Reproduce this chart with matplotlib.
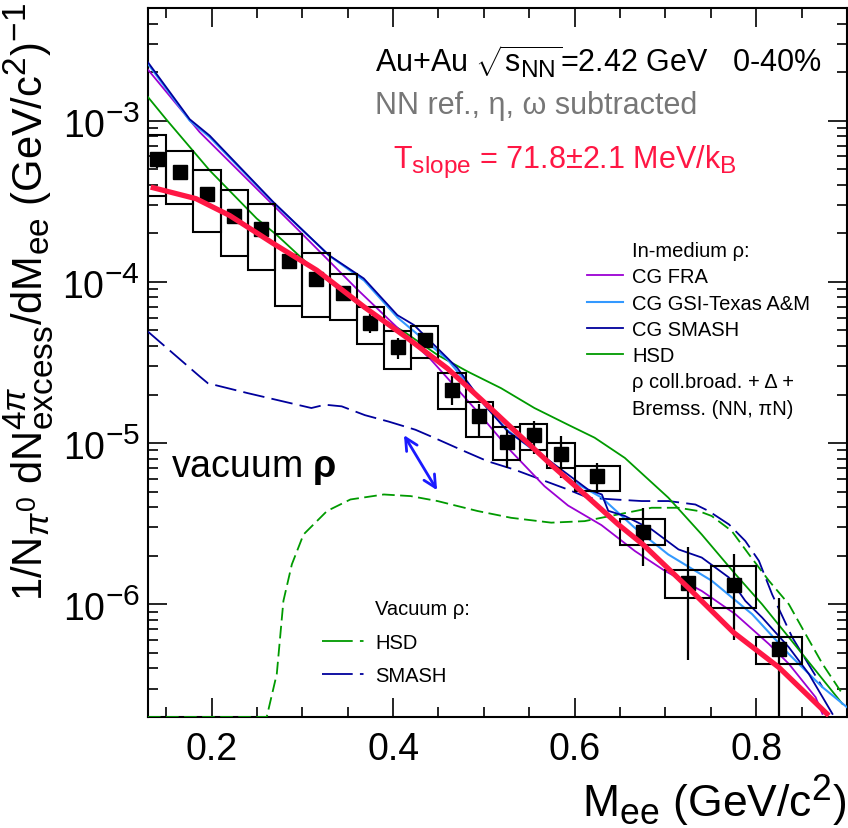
import numpy as np
import matplotlib
matplotlib.use("Agg")
import matplotlib.pyplot as plt
import matplotlib._mathtext as mathtext_impl
from matplotlib.lines import Line2D
from matplotlib.patches import Rectangle
from matplotlib.ticker import MultipleLocator, FixedLocator

plt.rcParams['font.family'] = ['Liberation Sans', 'DejaVu Sans']
plt.rcParams['mathtext.fontset'] = 'custom'
plt.rcParams['mathtext.rm'] = 'Liberation Sans'
plt.rcParams['mathtext.it'] = 'Liberation Sans:italic'
plt.rcParams['mathtext.bf'] = 'Liberation Sans:bold'
plt.rcParams['mathtext.sf'] = 'Liberation Sans'
# ROOT-style labels use bigger sub/superscripts than mathtext does
mathtext_impl.SHRINK_FACTOR = 0.8

# --- measured excess yield (HADES Au+Au 2.42 GeV, 0-40%) ---
mass = [0.14, 0.165, 0.195, 0.225, 0.255, 0.285, 0.315, 0.345, 0.375, 0.405, 0.435,
        0.465, 0.495, 0.525, 0.555, 0.585, 0.625, 0.675, 0.725, 0.775, 0.825]
bin_w = [0.02, 0.03, 0.03, 0.03, 0.03, 0.03, 0.03, 0.03, 0.03, 0.03, 0.03,
         0.03, 0.03, 0.03, 0.03, 0.03, 0.05, 0.05, 0.05, 0.05, 0.05]
yld = [5.80e-4, 4.80e-4, 3.52e-4, 2.56e-4, 2.14e-4, 1.34e-4, 1.04e-4, 8.52e-5, 5.56e-5,
       3.97e-5, 4.36e-5, 2.14e-5, 1.47e-5, 1.02e-5, 1.12e-5, 8.60e-6, 6.24e-6, 2.82e-6,
       1.35e-6, 1.32e-6, 5.25e-7]
stat_hi = [6.4e-4, 5.0e-4, 3.9e-4, 2.72e-4, 2.27e-4, 1.46e-4, 1.13e-4, 9.4e-5, 6.3e-5,
           4.5e-5, 4.85e-5, 2.6e-5, 1.75e-5, 1.21e-5, 1.38e-5, 1.11e-5, 7.5e-6, 3.93e-6,
           2.28e-6, 2.06e-6, 1.10e-6]
stat_lo = [5.1e-4, 4.6e-4, 3.13e-4, 2.40e-4, 2.01e-4, 1.22e-4, 0.95e-4, 7.7e-5, 4.85e-5,
           3.3e-5, 3.9e-5, 1.72e-5, 1.10e-5, 7.0e-6, 8.5e-6, 6.1e-6, 4.9e-6, 1.73e-6,
           4.5e-7, 6.0e-7, 1.0e-7]
sys_hi = [8.19e-4, 6.52e-4, 4.91e-4, 3.69e-4, 3.05e-4, 1.97e-4, 1.50e-4, 1.12e-4, 7.02e-5,
          4.96e-5, 5.35e-5, 2.71e-5, 1.81e-5, 1.25e-5, 1.32e-5, 1.0e-5, 7.24e-6, 3.36e-6,
          1.63e-6, 1.73e-6, 6.23e-7]
sys_lo = [3.39e-4, 3.02e-4, 2.04e-4, 1.44e-4, 1.18e-4, 7.11e-5, 6.03e-5, 5.80e-5, 4.12e-5,
          2.88e-5, 3.36e-5, 1.63e-5, 1.09e-5, 7.83e-6, 9.03e-6, 7.01e-6, 5.08e-6, 2.32e-6,
          1.09e-6, 9.55e-7, 4.27e-7]

# --- exponential fit (T_slope) ---
fit_m = [0.133, 0.183, 0.22, 0.268, 0.316, 0.368, 0.416, 0.46, 0.50, 0.53, 0.574, 0.607,
         0.648, 0.676, 0.725, 0.775, 0.825, 0.88]
fit_y = [3.87e-4, 3.28e-4, 2.58e-4, 1.73e-4, 1.18e-4, 7.0e-5, 4.47e-5, 2.9e-5, 1.8e-5,
         1.25e-5, 7.35e-6, 5.04e-6, 3.13e-6, 2.33e-6, 1.27e-6, 6.69e-7, 4.06e-7, 2.04e-7]

# --- in-medium rho models ---
fra_m = [0.13, 0.187, 0.2977, 0.3604, 0.4047, 0.4415, 0.4894, 0.530, 0.5668, 0.5927,
         0.6295, 0.6664, 0.6996, 0.740, 0.777, 0.814, 0.836, 0.8655, 0.873]
fra_y = [2.07e-3, 8.48e-4, 2.04e-4, 9.0e-5, 5.2e-5, 3.3e-5, 1.65e-5, 8.9e-6, 5.4e-6,
         4.1e-6, 3.1e-6, 2.14e-6, 1.61e-6, 1.21e-6, 8.69e-7, 5.67e-7, 4.27e-7, 2.65e-7,
         2.09e-7]

gsi_m = [0.13, 0.176, 0.198, 0.268, 0.33, 0.368, 0.405, 0.46, 0.50, 0.526, 0.563, 0.593,
         0.6295, 0.666, 0.703, 0.751, 0.7955, 0.836, 0.873, 0.90]
gsi_y = [2.25e-3, 1.0e-3, 7.9e-4, 3.1e-4, 1.45e-4, 1.02e-4, 6.0e-5, 3.3e-5, 1.75e-5,
         1.2e-5, 8.3e-6, 6.0e-6, 4.6e-6, 2.99e-6, 2.04e-6, 1.40e-6, 8.69e-7, 4.91e-7,
         3.06e-7, 2.3e-7]

smash_m = [0.13, 0.176, 0.198, 0.268, 0.3295, 0.3677, 0.4047, 0.423, 0.46, 0.471, 0.5004,
           0.5263, 0.5632, 0.5927, 0.6148, 0.63, 0.637, 0.6553, 0.685, 0.7144, 0.740,
           0.7697, 0.788, 0.8065, 0.836, 0.858, 0.884]
smash_y = [2.30e-3, 1.02e-3, 8.07e-4, 3.13e-4, 1.46e-4, 1.05e-4, 6.22e-5, 5.40e-5, 3.36e-5,
           2.91e-5, 1.73e-5, 1.18e-5, 8.48e-6, 6.38e-6, 5.15e-6, 4.8e-6, 3.8e-6, 3.53e-6,
           2.91e-6, 2.19e-6, 1.95e-6, 1.47e-6, 1.05e-6, 8.28e-7, 5.41e-7, 3.70e-7, 2.09e-7]

hsd_m = [0.13, 0.150, 0.198, 0.2498, 0.272, 0.316, 0.3677, 0.412, 0.449, 0.482, 0.519,
         0.5557, 0.5927, 0.622, 0.6553, 0.7033, 0.740, 0.777, 0.8065, 0.836, 0.8655, 0.895]
hsd_y = [1.40e-3, 1.02e-3, 4.91e-4, 2.47e-4, 1.95e-4, 1.15e-4, 6.85e-5, 4.91e-5, 3.52e-5,
         2.78e-5, 2.19e-5, 1.65e-5, 1.30e-5, 1.08e-5, 8.09e-6, 4.58e-6, 2.71e-6, 1.54e-6,
         1.00e-6, 6.24e-7, 3.88e-7, 2.41e-7]

# --- vacuum rho models ---
hsd_vac_m = [0.13, 0.2608, 0.2719, 0.2792, 0.2885, 0.3013, 0.3272, 0.353, 0.3898, 0.4194,
             0.4489, 0.4931, 0.530, 0.5742, 0.611, 0.648, 0.6848, 0.7144, 0.7365, 0.751,
             0.773, 0.792, 0.814, 0.836, 0.8544, 0.873, 0.895]
hsd_vac_y = [2.0e-7, 2.0e-7, 3.70e-7, 1.05e-6, 1.77e-6, 2.71e-6, 3.79e-6, 4.47e-6, 4.80e-6,
             4.69e-6, 4.37e-6, 3.79e-6, 3.44e-6, 3.21e-6, 3.28e-6, 3.61e-6, 3.97e-6, 3.97e-6,
             3.79e-6, 3.53e-6, 2.85e-6, 2.04e-6, 1.40e-6, 1.00e-6, 6.53e-7, 4.27e-7, 2.78e-7]

smash_vac_m = [0.13, 0.187, 0.196, 0.240, 0.310, 0.325, 0.3434, 0.369, 0.395, 0.4246,
               0.445, 0.4747, 0.504, 0.5336, 0.563, 0.5927, 0.6148, 0.644, 0.6738, 0.7033,
               0.733, 0.7476, 0.770, 0.788, 0.803, 0.8176, 0.8397, 0.873]
smash_vac_y = [4.91e-5, 2.59e-5, 2.35e-5, 2.04e-5, 1.65e-5, 1.73e-5, 1.69e-5, 1.49e-5,
               1.36e-5, 1.21e-5, 1.08e-5, 9.10e-6, 7.72e-6, 6.85e-6, 5.94e-6, 5.15e-6,
               4.58e-6, 4.47e-6, 4.37e-6, 4.37e-6, 4.16e-6, 3.79e-6, 3.13e-6, 2.47e-6,
               1.86e-6, 1.15e-6, 6.24e-7, 3.06e-7]

# arrow between in-medium and vacuum spectra
arrow_m = [0.412, 0.4485]
arrow_y = [1.12e-5, 5.1e-6]

c_red = '#ff1744'
c_fra = '#9b00d3'
c_gsi = '#3399ff'
c_smash = '#00009c'
c_hsd = '#009a00'

fig = plt.figure(figsize=(8.48, 8.29), dpi=100)
ax = fig.add_axes([0.1745, 0.1339, 0.8243, 0.8553])
ax.set_yscale('log')
ax.set_xlim(0.13, 0.9)
ax.set_ylim(2e-7, 5e-3)

# model curves
ax.plot(hsd_vac_m, hsd_vac_y, color=c_hsd, lw=1.3, ls=(0, (7, 3)), zorder=3)
ax.plot(smash_vac_m, smash_vac_y, color=c_smash, lw=1.3, ls=(0, (12, 4)), zorder=3)
ax.plot(hsd_m, hsd_y, color=c_hsd, lw=1.3, zorder=3)
ax.plot(fra_m, fra_y, color=c_fra, lw=1.3, zorder=3)
ax.plot(gsi_m, gsi_y, color=c_gsi, lw=1.5, zorder=3)
ax.plot(smash_m, smash_y, color=c_smash, lw=1.3, zorder=3)

# systematic boxes
for m, w, lo, hi in zip(mass, bin_w, sys_lo, sys_hi):
    ax.add_patch(Rectangle((m - w / 2, lo), w, hi - lo, fill=False,
                           edgecolor='black', lw=1.5, zorder=4))

# data with statistical errors
yerr = [np.array(yld) - np.array(stat_lo), np.array(stat_hi) - np.array(yld)]
ax.errorbar(mass, yld, yerr=yerr, fmt='s', color='black', ms=9.5, lw=1.6,
            capsize=0, zorder=5)

# fit
ax.plot(fit_m, fit_y, color=c_red, lw=3.8, zorder=6, solid_capstyle='butt')

ax.annotate('', xy=(arrow_m[1], arrow_y[1]), xytext=(arrow_m[0], arrow_y[0]),
            arrowprops=dict(arrowstyle='<->', color='#1a1aff', lw=2,
                            mutation_scale=22, shrinkA=0, shrinkB=0), zorder=7)

# axes style
for s in ax.spines.values():
    s.set_linewidth(1.5)
ax.xaxis.set_major_locator(FixedLocator([0.2, 0.4, 0.6, 0.8]))
ax.xaxis.set_minor_locator(MultipleLocator(0.05))
ax.tick_params(which='both', direction='in', top=True, right=True, width=1.2)
ax.tick_params(which='major', length=14, labelsize=27)
ax.tick_params(which='minor', length=7)
ax.tick_params(axis='x', pad=10)
ax.tick_params(axis='y', pad=6)

ax.set_xlabel(r'M$_{\rm ee}$ (GeV/c$^{2}$)', fontsize=32, loc='right', labelpad=3)
fig.text(0.034, 0.997,
         r'1/N$_{\pi^{0}}$ dN$^{4\pi}_{\rm excess}$/dM$_{\rm ee}$ (GeV/c$^{2}$)$^{-1}$',
         rotation=90, ha='center', va='top', fontsize=30)

# annotations
fig.text(0.442, 0.912, r'Au+Au $\sqrt{\rm s_{NN}}$=2.42 GeV   0-40%',
         fontsize=22, va='baseline')
fig.text(0.442, 0.8625, 'NN ref., η, ω subtracted', fontsize=22, color='#777777',
         va='baseline')
fig.text(0.4634, 0.797, r'T$_{\rm slope}$ = 71.8±2.1 MeV/k$_{\rm B}$', fontsize=22,
         color=c_red, va='baseline')
fig.text(0.2017, 0.425, r'vacuum $\mathbf{ρ}$', fontsize=27, va='baseline')

# legends
none = Line2D([], [], color='none')
h1 = [none, Line2D([], [], color=c_fra, lw=1.3), Line2D([], [], color=c_gsi, lw=1.5),
      Line2D([], [], color=c_smash, lw=1.3), Line2D([], [], color=c_hsd, lw=1.3),
      none, none]
l1 = ['In-medium ρ:', 'CG FRA', 'CG GSI-Texas A&M', 'CG SMASH', 'HSD',
      'ρ coll.broad. + Δ +', 'Bremss. (NN, πN)']
leg1 = ax.legend(h1, l1, loc='upper left', bbox_to_anchor=(0.628, 0.671),
                 frameon=False, fontsize=14.5, handlelength=1.8, handletextpad=0.45,
                 labelspacing=0.36, borderpad=0, borderaxespad=0)
ax.add_artist(leg1)

h2 = [none, Line2D([], [], color=c_hsd, lw=1.3, ls=(0, (17, 4, 2, 4))),
      Line2D([], [], color=c_smash, lw=1.3, ls=(0, (17, 4, 2, 4)))]
l2 = ['Vacuum ρ:', 'HSD', 'SMASH']
ax.legend(h2, l2, loc='upper left', bbox_to_anchor=(0.249, 0.166),
          frameon=False, fontsize=14.5, handlelength=2.2, handletextpad=0.45,
          labelspacing=0.72, borderpad=0, borderaxespad=0)

fig.savefig('out.png', dpi=100)
